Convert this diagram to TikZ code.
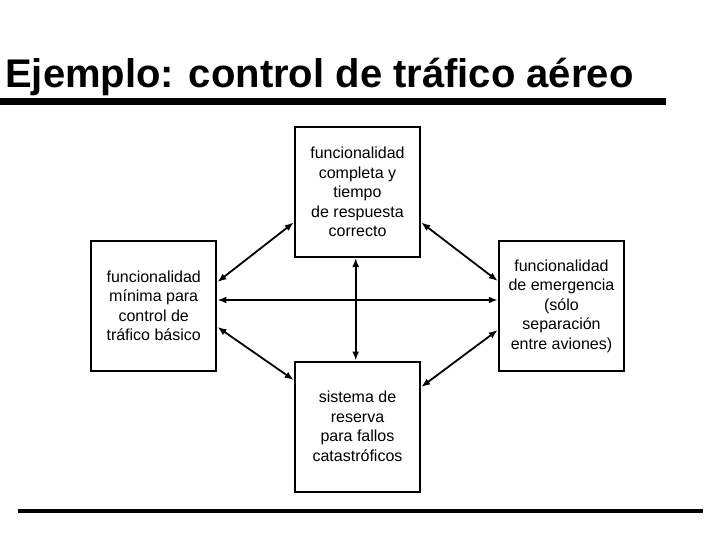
\documentclass[tikz,border=0pt]{standalone}
\usepackage{fontspec}
\setmainfont{Liberation Sans}
\usetikzlibrary{arrows.meta}
\tikzset{
  boxnode/.style={draw, line width=2pt, minimum width=125.5pt, minimum height=130pt,
    inner sep=0pt, align=center, font=\fontsize{16}{19.5}\selectfont},
  link/.style={line width=1.8pt, {Latex[length=9pt,width=7pt]}-{Latex[length=9pt,width=7pt]}}
}
\begin{document}
\begin{tikzpicture}[x=1pt,y=-1pt]
\useasboundingbox (0,0) rectangle (720,540);
\node[anchor=base west, inner sep=0pt, font=\fontsize{40}{48}\selectfont\bfseries] (title) at (5,88) {Ejemplo: control de tráfico aéreo};
\fill (0,98) rectangle (666,105.5);
\fill (18,509) rectangle (703,512.5);

\node[boxnode] (top) at (357.5,192) {funcionalidad\\completa y\\tiempo\\de respuesta\\correcto};
\node[boxnode] (left) at (153.7,306) {funcionalidad\\mínima para\\control de\\tráfico básico};
\node[boxnode] (right) at (561.5,306) {funcionalidad\\de emergencia\\(sólo\\separación\\entre aviones)};
\node[boxnode] (bottom) at (357.5,426.5) {sistema de\\reserva\\para fallos\\catastróficos};

\draw[link] ([xshift=-1.8pt]top.south) -- ([xshift=-1.8pt]bottom.north);
\draw[link] ([yshift=6pt]left.east) -- ([yshift=6pt]right.west);
\draw[link] ([yshift=24pt]left.east) -- ([yshift=-30.5pt]top.west);
\draw[link] ([yshift=-30.5pt]top.east) -- ([yshift=25pt]right.west);
\draw[link] ([yshift=-21pt]left.east) -- ([yshift=46.5pt]bottom.west);
\draw[link] ([yshift=-24pt]right.west) -- ([yshift=39.5pt]bottom.east);
\end{tikzpicture}
\end{document}
